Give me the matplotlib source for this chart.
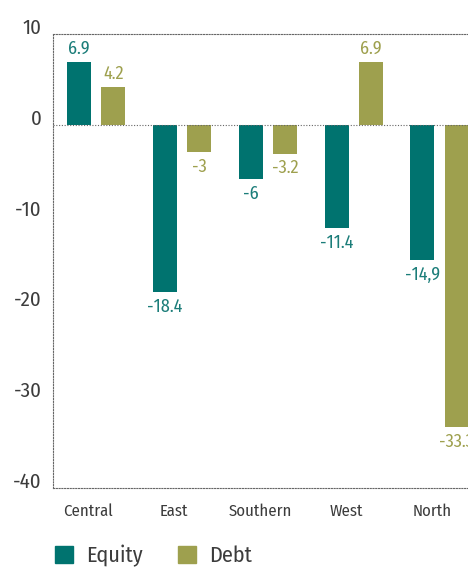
import numpy as np
import matplotlib
matplotlib.use("Agg")
from matplotlib import pyplot as plt
from matplotlib.patches import Patch

regions = ["Central", "East", "Southern", "West", "North"]
equity = [6.9, -18.4, -6, -11.4, -14.9]
debt = [4.2, -3, -3.2, 6.9, -33.3]
equity_labels = ["6.9", "-18.4", "-6", "-11.4", "-14,9"]
debt_labels = ["4.2", "-3", "-3.2", "6.9", "-33.3"]
yticks = [10, 0, -10, -20, -30, -40]

plt.rcParams['font.family'] = ['Fira Sans Condensed', 'DejaVu Sans']
plt.rcParams['font.weight'] = 'normal'

teal = "#00736f"
olive = "#9ea04e"
teal_txt = "#1b7d79"
grey = "#3c3c3c"
dots = (0, (1, 1.5))

fig = plt.figure(figsize=(4.68, 5.67), dpi=100)
ax = fig.add_axes([53 / 468, 79 / 567, 415 / 468, 454 / 567])

x = np.arange(len(regions))
w = 0.28
off = 0.2
ax.bar(x - off, equity, w, color=teal, zorder=2)
ax.bar(x + off, debt, w, color=olive, zorder=2)

for i in range(len(regions)):
    for val, lab, dx, c in [(equity[i], equity_labels[i], -off, teal_txt),
                            (debt[i], debt_labels[i], off, olive)]:
        if val >= 0:
            ax.annotate(lab, (x[i] + dx, val), xytext=(0, 3), textcoords="offset points",
                        ha="center", va="bottom", color=c, fontsize=13)
        else:
            ax.annotate(lab, (x[i] + dx, val), xytext=(0, -4), textcoords="offset points",
                        ha="center", va="top", color=c, fontsize=13)

ax.set_xlim(-0.5, 4.33)
ax.set_ylim(-40, 10)
ax.axhline(0, color="#666666", linestyle=dots, linewidth=0.8, zorder=3)
for s in ["top", "bottom", "left"]:
    ax.spines[s].set_linestyle(dots)
    ax.spines[s].set_color("#666666")
    ax.spines[s].set_linewidth(0.8)
ax.spines["right"].set_visible(False)

ax.set_yticks(yticks)
ax.set_yticklabels([str(t) for t in yticks], fontsize=15, color=grey)
for t in ax.get_yticklabels():
    t.set_va("baseline")
ax.set_xticks(x - 0.09)
ax.set_xticklabels(regions, fontsize=12, color=grey)
ax.tick_params(axis="both", length=0)
ax.tick_params(axis="x", pad=11)
ax.tick_params(axis="y", pad=8)

handles = [Patch(color=teal, label="Equity"), Patch(color=olive, label="Debt")]
fig.legend(handles=handles, loc="lower left", bbox_to_anchor=(35 / 468, -0.035), ncol=2,
           frameon=False, fontsize=16, handlelength=0.8, handleheight=0.8,
           handletextpad=0.6, columnspacing=1.6, labelcolor=grey)

fig.savefig("out.png", dpi=100)
